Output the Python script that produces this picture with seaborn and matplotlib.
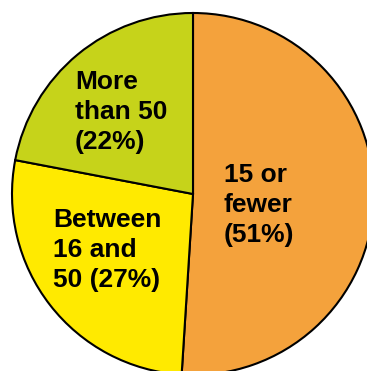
import matplotlib
matplotlib.use("Agg")
import matplotlib.pyplot as plt
import seaborn as sns

categories = ["15 or\nfewer\n(51%)", "Between\n16 and\n50 (27%)", "More\nthan 50\n(22%)"]
values = [51, 27, 22]
colors = ["#F4A23C", "#FFEA00", "#C6D31A"]

sns.set_style("white")
plt.rcParams['font.family'] = ['Liberation Sans', 'DejaVu Sans']

W, H = 367, 371
fig = plt.figure(figsize=(W / 100, H / 100), dpi=100)
ax = fig.add_axes([0, 0, 1, 1])

ax.pie(values, colors=colors, startangle=90, counterclock=False, radius=1,
       wedgeprops=dict(edgecolor="black", linewidth=1.5))

cx, cy, r = 193, 194, 181
ax.set_xlim(-cx / r, (W - cx) / r)
ax.set_ylim(-(H - cy) / r, cy / r)
ax.set_aspect('auto')
ax.axis('off')

# label positions (pixel: left x, center y)
label_pos = [(224, 205), (53, 250), (75, 112)]
for lab, (px, py) in zip(categories, label_pos):
    ax.text(px / W, 1 - py / H, lab, transform=ax.transAxes, ha='left', va='center',
            fontsize=19, fontweight='bold', linespacing=1.32, color='black')

fig.savefig("out.png", dpi=100)
